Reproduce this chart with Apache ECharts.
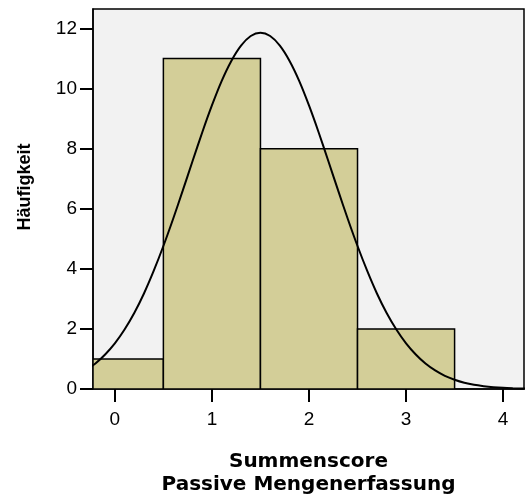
<!DOCTYPE html>
<html>
<head>
<meta charset="utf-8">
<script src="https://cdn.jsdelivr.net/npm/echarts@6/dist/echarts.min.js"></script>
<style>
  html, body { margin: 0; padding: 0; background: #fff; }
  #chart { width: 526px; height: 501px; }
</style>
</head>
<body>
<div id="chart"></div>
<script>
// Histogram bins (score classes) and their counts
const binStart = [-0.5, 0.5, 1.5, 2.5];
const binEnd = [0.5, 1.5, 2.5, 3.5];
const counts = [1, 11, 8, 2];

// Normal curve (x from -0.3 to 4.3, step 0.1)
const curveX = [-0.3, -0.2, -0.1, 0, 0.1, 0.2, 0.3, 0.4, 0.5, 0.6, 0.7, 0.8, 0.9, 1.0,
    1.1, 1.2, 1.3, 1.4, 1.5, 1.6, 1.7, 1.8, 1.9, 2.0, 2.1, 2.2, 2.3, 2.4, 2.5, 2.6, 2.7,
    2.8, 2.9, 3.0, 3.1, 3.2, 3.3, 3.4, 3.5, 3.6, 3.7, 3.8, 3.9, 4.0, 4.1, 4.2, 4.3];
const curveY = [0.62, 0.85, 1.15, 1.52, 1.98, 2.53, 3.18, 3.93, 4.76, 5.66, 6.61, 7.58, 8.54, 9.44,
    10.25, 10.92, 11.43, 11.75, 11.86, 11.75, 11.43, 10.92, 10.25, 9.44, 8.54, 7.58, 6.61, 5.66, 4.76, 3.93, 3.18,
    2.53, 1.98, 1.52, 1.15, 0.85, 0.62, 0.44, 0.31, 0.21, 0.14, 0.095, 0.062, 0.039, 0.025, 0.015, 0.009];

// Tick labels
const xTicks = [0, 1, 2, 3, 4];
const yTicks = [0, 2, 4, 6, 8, 10, 12];

const chart = echarts.init(document.getElementById('chart'), null, { renderer: 'canvas' });

const barData = counts.map((c, i) => [binStart[i], binEnd[i], c]);
const curveData = curveX.map((x, i) => [x, curveY[i]]);

const option = {
    animation: false,
    backgroundColor: '#ffffff',
    grid: {
        left: 93, right: 2, top: 9, bottom: 108,
        show: true,
        backgroundColor: '#f2f2f2',
        borderColor: '#000',
        borderWidth: 1.5
    },
    xAxis: {
        type: 'value',
        min: -0.225,
        max: 4.215,
        name: 'Summenscore\nPassive Mengenerfassung',
        nameLocation: 'middle',
        nameGap: 61,
        nameTextStyle: {
            fontFamily: 'DejaVu Sans', fontWeight: 'bold', fontSize: 20,
            color: '#000', lineHeight: 23
        },
        axisLine: { show: true, onZero: false, lineStyle: { color: '#000', width: 1.5 } },
        axisTick: { show: true, length: 13, customValues: xTicks, lineStyle: { color: '#000', width: 2 } },
        axisLabel: {
            customValues: xTicks, margin: 21,
            fontFamily: 'Liberation Sans', fontSize: 19, color: '#000'
        },
        splitLine: { show: false }
    },
    yAxis: {
        type: 'value',
        min: 0,
        max: 12.65,
        axisLine: { show: true, onZero: false, lineStyle: { color: '#000', width: 1.5 } },
        axisTick: { show: true, length: 13, customValues: yTicks, lineStyle: { color: '#000', width: 2 } },
        axisLabel: {
            customValues: yTicks, margin: 16,
            fontFamily: 'Liberation Sans', fontSize: 19, color: '#000'
        },
        splitLine: { show: false }
    },
    graphic: [{
        type: 'text',
        x: 25, y: 187,
        rotation: Math.PI / 2,
        style: {
            text: 'Häufigkeit',
            fontFamily: 'Liberation Sans', fontWeight: 'bold', fontSize: 18,
            fill: '#000', align: 'center', verticalAlign: 'middle'
        }
    }],
    series: [{
        type: 'custom',
        data: barData,
        clip: true,
        z: 2,
        renderItem: (params, api) => {
            const p0 = api.coord([api.value(0), api.value(2)]);
            const p1 = api.coord([api.value(1), 0]);
            const rect = echarts.graphic.clipRectByRect({
                x: p0[0], y: p0[1], width: p1[0] - p0[0], height: p1[1] - p0[1]
            }, {
                x: params.coordSys.x, y: params.coordSys.y,
                width: params.coordSys.width, height: params.coordSys.height
            });
            return rect && {
                type: 'rect',
                shape: rect,
                style: { fill: '#d3ce98', stroke: '#000', lineWidth: 1.5 }
            };
        }
    }, {
        type: 'line',
        data: curveData,
        smooth: 0.3,
        symbol: 'none',
        clip: true,
        z: 3,
        lineStyle: { color: '#000', width: 2 }
    }]
};

chart.setOption(option);
</script>
</body>
</html>
